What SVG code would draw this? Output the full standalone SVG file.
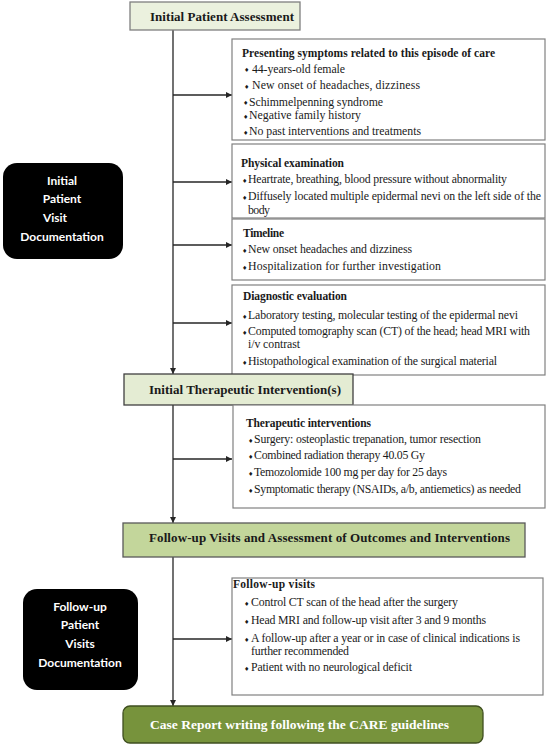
<svg xmlns="http://www.w3.org/2000/svg" width="550" height="746" viewBox="0 0 550 746">
<style>
.bg{fill:#ffffff}
.hdr{fill:#ebf1de;stroke:#7f7f7f;stroke-width:1.3}
.hdr2{fill:#e4ecd3;stroke:#404040;stroke-width:1.3}
.fu{fill:#c3d69b;stroke:#595959;stroke-width:1.3}
.care{fill:#77933c;stroke:#3f4f20;stroke-width:1.3}
.box{fill:#ffffff;stroke:#808080;stroke-width:1.2}
.blk{fill:#000000}
.ht{font-family:"Liberation Serif","Times New Roman",serif;font-weight:bold;font-size:13px;fill:#1a1a1a}
.ct{font-family:"Liberation Serif","Times New Roman",serif;font-weight:bold;font-size:13.5px;fill:#ffffff}
.tt{font-family:"Liberation Serif","Times New Roman",serif;font-weight:bold;font-size:11.5px;fill:#1a1a1a}
.t{font-family:"Liberation Serif","Times New Roman",serif;font-size:11.8px;fill:#1a1a1a}
.b{font-family:"DejaVu Sans",sans-serif;font-size:6px;fill:#1a1a1a}
.wt{font-family:Lato,"Open Sans",sans-serif;font-weight:bold;font-size:12px;fill:#ffffff;text-anchor:middle}
.ln{stroke:#262626;stroke-width:1.3;fill:none}
</style>
<defs>
<marker id="ah" viewBox="0 0 10 10" refX="10" refY="5" markerWidth="6" markerHeight="6" markerUnits="userSpaceOnUse" orient="auto">
<path d="M0,0 L10,5 L0,10 z" fill="#262626"/>
</marker>
</defs>
<rect class="bg" x="0" y="0" width="550" height="746"/>

<g id="connectors">
<line class="ln" x1="173" y1="30" x2="173" y2="374" marker-end="url(#ah)"/>
<line class="ln" x1="173" y1="95" x2="232" y2="95" marker-end="url(#ah)"/>
<line class="ln" x1="173" y1="182" x2="232" y2="182" marker-end="url(#ah)"/>
<line class="ln" x1="173" y1="245" x2="232" y2="245" marker-end="url(#ah)"/>
<line class="ln" x1="173" y1="323" x2="232" y2="323" marker-end="url(#ah)"/>
<line class="ln" x1="173" y1="405" x2="173" y2="523" marker-end="url(#ah)"/>
<line class="ln" x1="173" y1="459" x2="232" y2="459" marker-end="url(#ah)"/>
<line class="ln" x1="173" y1="557" x2="173" y2="706" marker-end="url(#ah)"/>
<line class="ln" x1="173" y1="639" x2="232" y2="639" marker-end="url(#ah)"/>
</g>

<g id="initial-assessment">
<rect class="hdr" x="130" y="2" width="170" height="28"/>
<text class="ht" x="150" y="21" textLength="144" lengthAdjust="spacing">Initial Patient Assessment</text>
</g>

<g id="presenting-symptoms">
<rect class="box" x="232" y="39" width="313" height="101"/>
<text class="tt" x="242" y="57" textLength="253" lengthAdjust="spacing">Presenting symptoms related to this episode of care</text>
<text class="b" x="244" y="72">♦</text><text class="t" x="252" y="72.5" textLength="93" lengthAdjust="spacing">44-years-old female</text>
<text class="b" x="244" y="88.5">♦</text><text class="t" x="252" y="89" textLength="168" lengthAdjust="spacing">New onset of headaches, dizziness</text>
<text class="b" x="243" y="105">♦</text><text class="t" x="249" y="105.5" textLength="134" lengthAdjust="spacing">Schimmelpenning syndrome</text>
<text class="b" x="243" y="118.5">♦</text><text class="t" x="249" y="119" textLength="112" lengthAdjust="spacing">Negative family history</text>
<text class="b" x="243" y="134.5">♦</text><text class="t" x="249" y="135" textLength="172" lengthAdjust="spacing">No past interventions and treatments</text>
</g>

<g id="physical-examination">
<rect class="box" x="232" y="144" width="313" height="74"/>
<text class="tt" x="241" y="167" textLength="103" lengthAdjust="spacing">Physical examination</text>
<text class="b" x="242" y="182.5">♦</text><text class="t" x="248" y="183" textLength="259" lengthAdjust="spacing">Heartrate, breathing, blood pressure without abnormality</text>
<text class="b" x="242" y="199.5">♦</text><text class="t" x="248" y="200" textLength="293" lengthAdjust="spacing">Diffusely located multiple epidermal nevi on the left side of the</text>
<text class="t" x="248" y="214" textLength="22" lengthAdjust="spacing">body</text>
</g>

<g id="timeline">
<rect class="box" x="232" y="219" width="313" height="61"/>
<text class="tt" x="243" y="237" textLength="41" lengthAdjust="spacing">Timeline</text>
<text class="b" x="242" y="252.5">♦</text><text class="t" x="248" y="253" textLength="164" lengthAdjust="spacing">New onset headaches and dizziness</text>
<text class="b" x="242" y="269.5">♦</text><text class="t" x="248" y="270" textLength="193" lengthAdjust="spacing">Hospitalization for further investigation</text>
</g>

<g id="diagnostic-evaluation">
<rect class="box" x="232" y="285" width="313" height="90"/>
<text class="tt" x="243" y="300" textLength="104" lengthAdjust="spacing">Diagnostic evaluation</text>
<text class="b" x="242" y="318.5">♦</text><text class="t" x="248" y="319" textLength="270" lengthAdjust="spacing">Laboratory testing, molecular testing of the epidermal nevi</text>
<text class="b" x="242" y="334.5">♦</text><text class="t" x="248" y="335" textLength="282" lengthAdjust="spacing">Computed tomography scan (CT) of the head; head MRI with</text>
<text class="t" x="248" y="348" textLength="52" lengthAdjust="spacing">i/v contrast</text>
<text class="b" x="242" y="364.5">♦</text><text class="t" x="248" y="365" textLength="249" lengthAdjust="spacing">Histopathological examination of the surgical material</text>
</g>

<g id="initial-visit-doc">
<rect class="blk" x="3" y="163" width="120" height="96" rx="14"/>
<text class="wt" x="62" y="185">Initial</text>
<text class="wt" x="62" y="203">Patient</text>
<text class="wt" x="55" y="222">Visit</text>
<text class="wt" x="62" y="241">Documentation</text>
</g>

<g id="initial-therapeutic">
<rect class="hdr2" x="124" y="374" width="229" height="31"/>
<text class="ht" x="149" y="394" textLength="192" lengthAdjust="spacing">Initial Therapeutic Intervention(s)</text>
</g>

<g id="therapeutic-interventions">
<rect class="box" x="233" y="405" width="312" height="103"/>
<text class="tt" x="246" y="427" textLength="125" lengthAdjust="spacing">Therapeutic interventions</text>
<text class="b" x="248" y="442.5">♦</text><text class="t" x="254" y="443" textLength="227" lengthAdjust="spacing">Surgery: osteoplastic trepanation, tumor resection</text>
<text class="b" x="248" y="458.5">♦</text><text class="t" x="254" y="459" textLength="171" lengthAdjust="spacing">Combined radiation therapy 40.05 Gy</text>
<text class="b" x="248" y="475.5">♦</text><text class="t" x="254" y="476" textLength="193" lengthAdjust="spacing">Temozolomide 100 mg per day for 25 days</text>
<text class="b" x="248" y="492.5">♦</text><text class="t" x="254" y="493" textLength="267" lengthAdjust="spacing">Symptomatic therapy (NSAIDs, a/b, antiemetics) as needed</text>
</g>

<g id="follow-up-assessment">
<rect class="fu" x="123" y="523" width="402" height="34"/>
<text class="ht" x="149" y="542" textLength="361" lengthAdjust="spacing">Follow-up Visits and Assessment of Outcomes and Interventions</text>
</g>

<g id="follow-up-visits">
<rect class="box" x="232" y="578" width="311" height="117"/>
<text class="tt" x="233" y="588" textLength="82" lengthAdjust="spacing">Follow-up visits</text>
<text class="b" x="244" y="605.5">♦</text><text class="t" x="251" y="606" textLength="207" lengthAdjust="spacing">Control CT scan of the head after the surgery</text>
<text class="b" x="244" y="623.5">♦</text><text class="t" x="251" y="624" textLength="235" lengthAdjust="spacing">Head MRI and follow-up visit after 3 and 9 months</text>
<text class="b" x="244" y="641.5">♦</text><text class="t" x="251" y="642" textLength="269" lengthAdjust="spacing">A follow-up after a year or in case of clinical indications is</text>
<text class="t" x="251" y="655" textLength="98" lengthAdjust="spacing">further recommended</text>
<text class="b" x="244" y="670.5">♦</text><text class="t" x="251" y="671" textLength="161" lengthAdjust="spacing">Patient with no neurological deficit</text>
</g>

<g id="follow-up-visits-doc">
<rect class="blk" x="23" y="589" width="115" height="101" rx="14"/>
<text class="wt" x="80" y="611">Follow-up</text>
<text class="wt" x="80" y="629">Patient</text>
<text class="wt" x="80" y="648">Visits</text>
<text class="wt" x="80" y="667">Documentation</text>
</g>

<g id="care-report">
<rect class="care" x="123" y="706" width="360" height="37" rx="7"/>
<text class="ct" x="150" y="729" textLength="299" lengthAdjust="spacing">Case Report writing following the CARE guidelines</text>
</g>
</svg>
